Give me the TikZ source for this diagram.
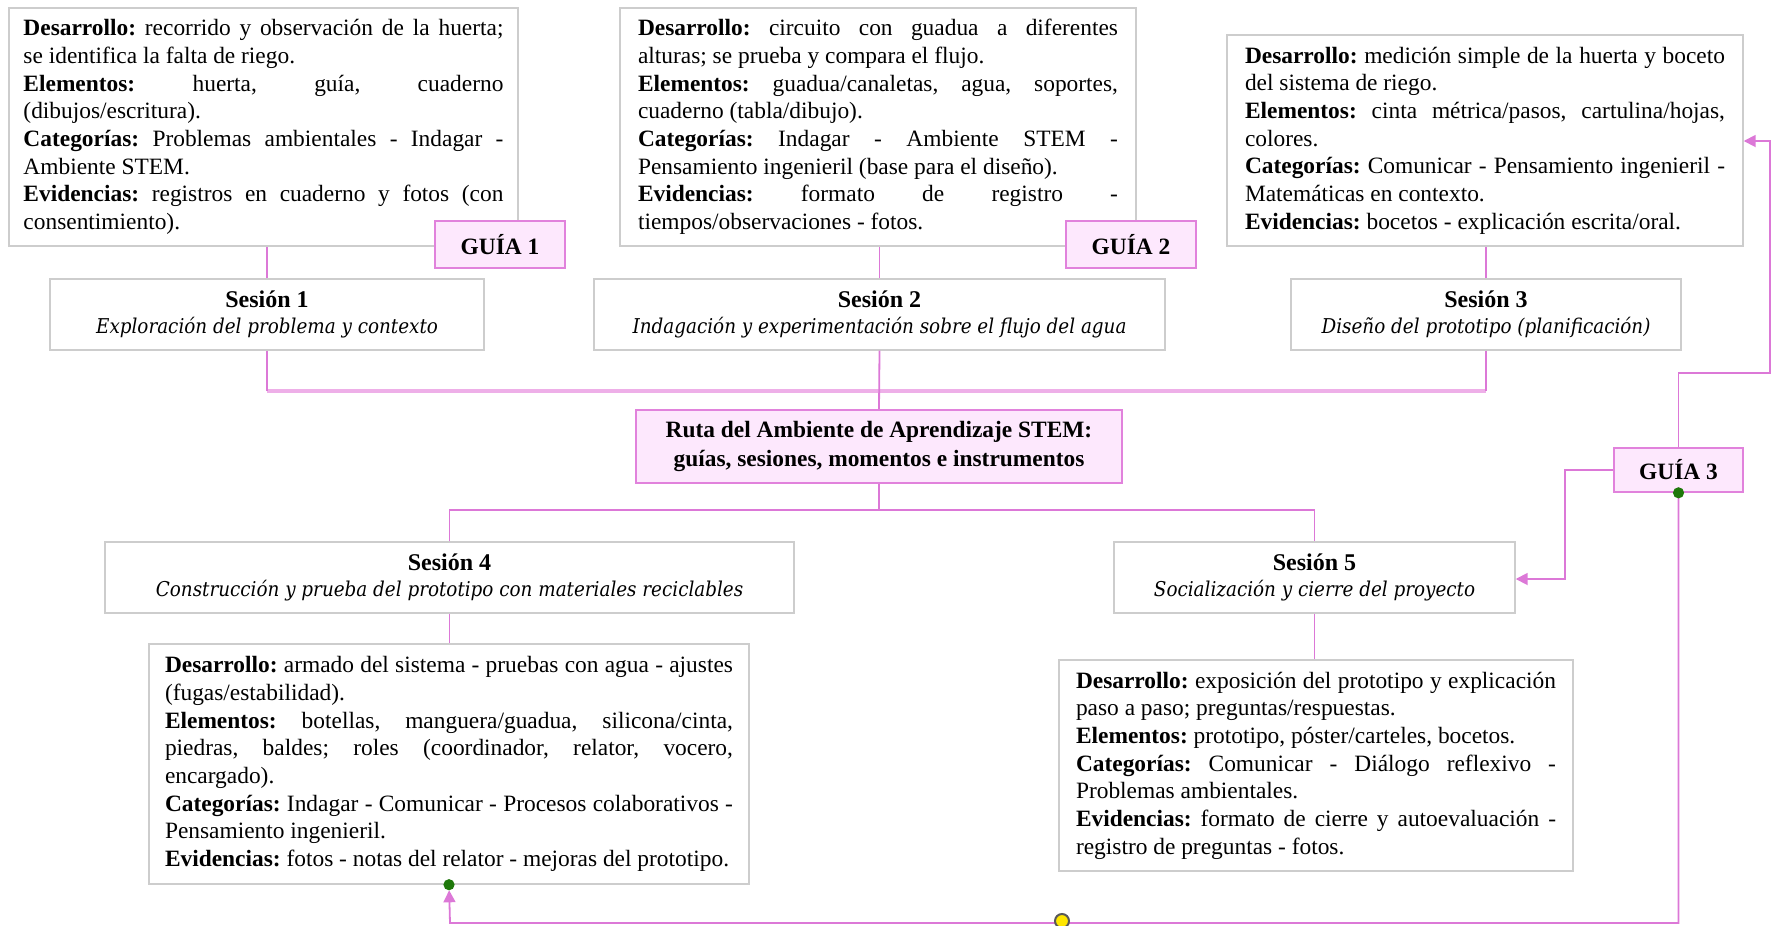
\documentclass[tikz,border=0pt]{standalone}
\usepackage{fontspec}
\setmainfont{Liberation Serif}
\newfontfamily\sesfont{DejaVu Serif Condensed}
\usetikzlibrary{arrows.meta}
\frenchspacing
\definecolor{lnk}{RGB}{220,120,215}
\definecolor{lnklight}{RGB}{238,175,232}
\definecolor{pinkfill}{RGB}{253,232,253}
\definecolor{pinkborder}{RGB}{225,130,220}
\definecolor{boxgray}{RGB}{205,205,205}
\definecolor{dotgreen}{RGB}{30,120,10}
\definecolor{dotyellow}{RGB}{255,230,0}
\newcommand{\lbl}[1]{\textbf{#1}}
\tikzset{
  infobox/.style={draw=boxgray, line width=0.7pt, fill=white, inner ysep=3pt, align=justify,
    font=\fontsize{11.7}{13.85}\selectfont,
    execute at begin node={\frenchspacing\parindent0pt\hyphenpenalty10000\exhyphenpenalty10000\tolerance10000\relax}},
  sesbox/.style={draw=boxgray, line width=0.7pt, fill=white, align=center, inner sep=2pt,
    minimum height=35.5pt, font=\fontsize{12}{12.8}\selectfont},
  pinkbox/.style={draw=pinkborder, line width=0.8pt, fill=pinkfill, align=center, inner sep=2pt,
    font=\fontsize{11.7}{14.5}\selectfont\bfseries},
  conn/.style={draw=lnk, line width=0.9pt},
  connh/.style={draw=lnklight, line width=1.6pt},
  tip/.style={-{Triangle[length=6pt,width=6pt]}},
  gdot/.style={circle, fill=dotgreen, inner sep=0pt, minimum size=5.6pt},
  ydot/.style={circle, fill=dotyellow, draw=black!65, line width=1pt, inner sep=0pt, minimum size=7pt}
}
\newcommand{\sub}[1]{\\{\sesfont\itshape\fontsize{10.2}{12.8}\selectfont #1}}
\begin{document}
\begin{tikzpicture}[x=0.5pt,y=-0.5pt]
\useasboundingbox (0,0) rectangle (1772,926);
% top info boxes
\node[infobox, text width=240pt, inner xsep=7.25pt, minimum height=119pt] (b1) at (263.5,127) {%
\lbl{Desarrollo:} recorrido y observación de la huerta;\linebreak se identifica la falta de riego.\par
\lbl{Elementos:} huerta, guía, cuaderno\linebreak (dibujos/escritura).\par
\lbl{Categorías:} Problemas ambientales - Indagar -\linebreak Ambiente STEM.\par
\lbl{Evidencias:} registros en cuaderno y fotos (con\linebreak consentimiento).};
\node[infobox, text width=240pt, inner xsep=9pt, minimum height=119pt] (b2) at (878,127) {%
\lbl{Desarrollo:} circuito con guadua a diferentes\linebreak alturas; se prueba y compara el flujo.\par
\lbl{Elementos:} guadua/canaletas, agua, soportes,\linebreak cuaderno (tabla/dibujo).\par
\lbl{Categorías:} Indagar - Ambiente STEM -\linebreak Pensamiento ingenieril (base para el diseño).\par
\lbl{Evidencias:} formato de registro -\linebreak tiempos/observaciones - fotos.};
\node[infobox, text width=240pt, inner xsep=9pt, minimum height=105.5pt] (b3) at (1485,140.5) {%
\lbl{Desarrollo:} medición simple de la huerta y boceto\linebreak del sistema de riego.\par
\lbl{Elementos:} cinta métrica/pasos, cartulina/hojas,\linebreak colores.\par
\lbl{Categorías:} Comunicar - Pensamiento ingenieril -\linebreak Matemáticas en contexto.\par
\lbl{Evidencias:} bocetos - explicación escrita/oral.};
% guide labels
\node[pinkbox, minimum width=65pt, minimum height=23.5pt] (g1) at (500,244.5) {GUÍA 1};
\node[pinkbox, minimum width=65pt, minimum height=23.5pt] (g2) at (1131,244.5) {GUÍA 2};
\node[pinkbox, minimum width=64.5pt, minimum height=22pt] (g3) at (1678.5,470) {GUÍA 3};
% sessions
\node[sesbox, minimum width=217pt] (s1) at (267,314.5) {\textbf{Sesión 1}\sub{Exploración del problema y contexto}};
\node[sesbox, minimum width=285.5pt] (s2) at (879.5,314.5) {\textbf{Sesión 2}\sub{Indagación y experimentación sobre el flujo del agua}};
\node[sesbox, minimum width=195pt] (s3) at (1486,314.5) {\textbf{Sesión 3}\sub{Diseño del prototipo (planificación)}};
\node[sesbox, minimum width=344.5pt] (s4) at (449.5,577.5) {\textbf{Sesión 4}\sub{Construcción y prueba del prototipo con materiales reciclables}};
\node[sesbox, minimum width=200.5pt] (s5) at (1314.5,577.5) {\textbf{Sesión 5}\sub{Socialización y cierre del proyecto}};
% central
\node[pinkbox, minimum width=243pt, minimum height=36.5pt] (c) at (879,446.5) {Ruta del Ambiente de Aprendizaje STEM:\\guías, sesiones, momentos e instrumentos};
% bottom info boxes
\node[infobox, text width=284pt, inner xsep=8pt, minimum height=120pt] (b4) at (449,764) {%
\lbl{Desarrollo:} armado del sistema - pruebas con agua - ajustes\linebreak (fugas/estabilidad).\par
\lbl{Elementos:} botellas, manguera/guadua, silicona/cinta,\linebreak piedras, baldes; roles (coordinador, relator, vocero,\linebreak encargado).\par
\lbl{Categorías:} Indagar - Comunicar - Procesos colaborativos -\linebreak Pensamiento ingenieril.\par
\lbl{Evidencias:} fotos - notas del relator - mejoras del prototipo.};
\node[infobox, text width=240pt, inner xsep=8.5pt, minimum height=105.5pt] (b5) at (1316,765.5) {%
\lbl{Desarrollo:} exposición del prototipo y explicación\linebreak paso a paso; preguntas/respuestas.\par
\lbl{Elementos:} prototipo, póster/carteles, bocetos.\par
\lbl{Categorías:} Comunicar - Diálogo reflexivo -\linebreak Problemas ambientales.\par
\lbl{Evidencias:} formato de cierre y autoevaluación -\linebreak registro de preguntas - fotos.};
% helper coordinates
\coordinate (h1) at (879,391);
\coordinate (h2) at (879,510);
\coordinate (r1) at (1770,373);
\coordinate (r2) at (1770,141);
\coordinate (l1) at (1565,470);
\coordinate (l2) at (1565,579);
\coordinate (d1) at (1678.5,923);
\coordinate (d2) at (450,923);
% connectors top
\draw[conn] (s1.north) -- (s1.north |- b1.south);
\draw[conn] (s2.north) -- (s2.north |- b2.south);
\draw[conn] (s3.north) -- (s3.north |- b3.south);
\draw[connh] (s1.south |- h1) -- (s3.south |- h1);
\draw[conn] (s1.south) -- (s1.south |- h1);
\draw[conn] (s3.south) -- (s3.south |- h1);
\draw[conn] (s2.south) -- (c.north);
% connectors bottom
\draw[conn] (c.south) -- (h2);
\draw[conn] (s4.north) |- (h2) -| (s5.north);
\draw[conn] (s4.south) -- (s4.south |- b4.north);
\draw[conn] (s5.south) -- (s5.south |- b5.north);
% guide 3 connectors
\draw[conn, tip] (g3.north) |- (r1) -- (r2) -- (b3.east |- r2);
\draw[conn, tip] (g3.west) -- (l1) -- (l2) -- (s5.east |- l2);
\draw[conn, tip, shorten >=2.8pt] (g3.south) -- (d1) -- (d2) -- (b4.south);
% dots
\node[gdot] (gd1) at (g3.south) {};
\node[gdot] (gd2) at (b4.south) {};
\node[ydot] (yd) at (1062,921) {};
\end{tikzpicture}
\end{document}
